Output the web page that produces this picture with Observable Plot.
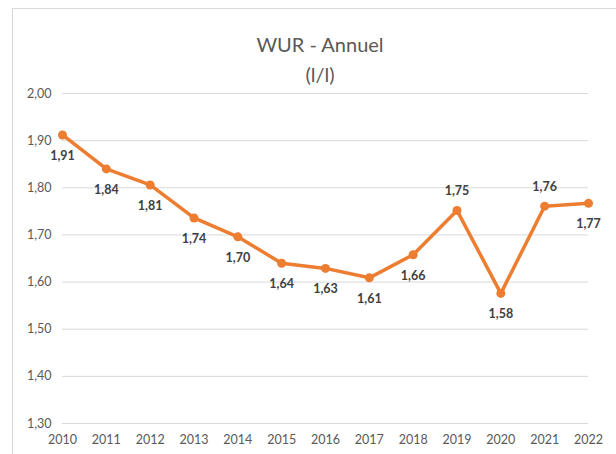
<!DOCTYPE html>
<html>
<head>
<meta charset="utf-8">
<script src="https://cdn.jsdelivr.net/npm/d3@7"></script>
<script src="https://cdn.jsdelivr.net/npm/@observablehq/plot@0.6"></script>
<style>
  html, body { margin: 0; padding: 0; background: #fff; }
  #wrap { position: relative; width: 616px; height: 454px; overflow: hidden; }
  #frame { position: absolute; left: 12px; top: 8px; width: 700px; height: 600px; border: 1px solid #d9d9d9; box-sizing: border-box; }
  #title { position: absolute; left: 0; width: 640px; top: 29px; text-align: center; font-family: Lato, "Open Sans", sans-serif; font-weight: 400; font-size: 20px; line-height: 30px; color: #595959; }
  #chart { position: absolute; left: 0; top: 0; }
</style>
</head>
<body>
<div id="wrap">
  <div id="frame"></div>
  <div id="chart"></div>
  <div id="title">WUR - Annuel<br>(l/l)</div>
</div>
<script>
const years = [2010, 2011, 2012, 2013, 2014, 2015, 2016, 2017, 2018, 2019, 2020, 2021, 2022];
const wur = [1.912, 1.840, 1.806, 1.736, 1.696, 1.640, 1.629, 1.609, 1.658, 1.752, 1.576, 1.761, 1.767];
const yTicks = [1.3, 1.4, 1.5, 1.6, 1.7, 1.8, 1.9, 2.0];
const labelsAbove = [2019, 2021];

const data = years.map((y, i) => ({year: y, value: wur[i]}));
const fmt = v => v.toFixed(2).replace(".", ",");
const orange = "#ED7D31";

const plot = Plot.plot({
  width: 616,
  height: 454,
  marginLeft: 62,
  marginRight: 28,
  marginTop: 93,
  marginBottom: 31,
  style: {background: "transparent", fontFamily: "Lato, 'Open Sans', sans-serif", fontSize: "12.5px", color: "#595959"},
  x: {domain: [2010, 2022], ticks: years, tickFormat: d => String(d), tickSize: 0, tickPadding: 12, label: null},
  y: {domain: [1.3, 2.0], ticks: yTicks, tickFormat: d => d.toFixed(2).replace(".", ","), tickSize: 0, tickPadding: 11, label: null},
  marks: [
    Plot.gridY(yTicks, {stroke: "#d9d9d9", strokeOpacity: 1, strokeWidth: 1}),
    Plot.line(data, {x: "year", y: "value", stroke: orange, strokeWidth: 3.5, strokeLinejoin: "round", strokeLinecap: "round"}),
    Plot.dot(data, {x: "year", y: "value", r: 4.5, fill: orange, stroke: orange, strokeWidth: 0}),
    Plot.text(data.filter(d => !labelsAbove.includes(d.year)), {x: "year", y: "value", text: d => fmt(d.value), dy: 21, fill: "#404040", fontWeight: "bold", fontSize: 12.5}),
    Plot.text(data.filter(d => labelsAbove.includes(d.year)), {x: "year", y: "value", text: d => fmt(d.value), dy: -19, fill: "#404040", fontWeight: "bold", fontSize: 12.5})
  ]
});
document.getElementById("chart").appendChild(plot);
</script>
</body>
</html>
